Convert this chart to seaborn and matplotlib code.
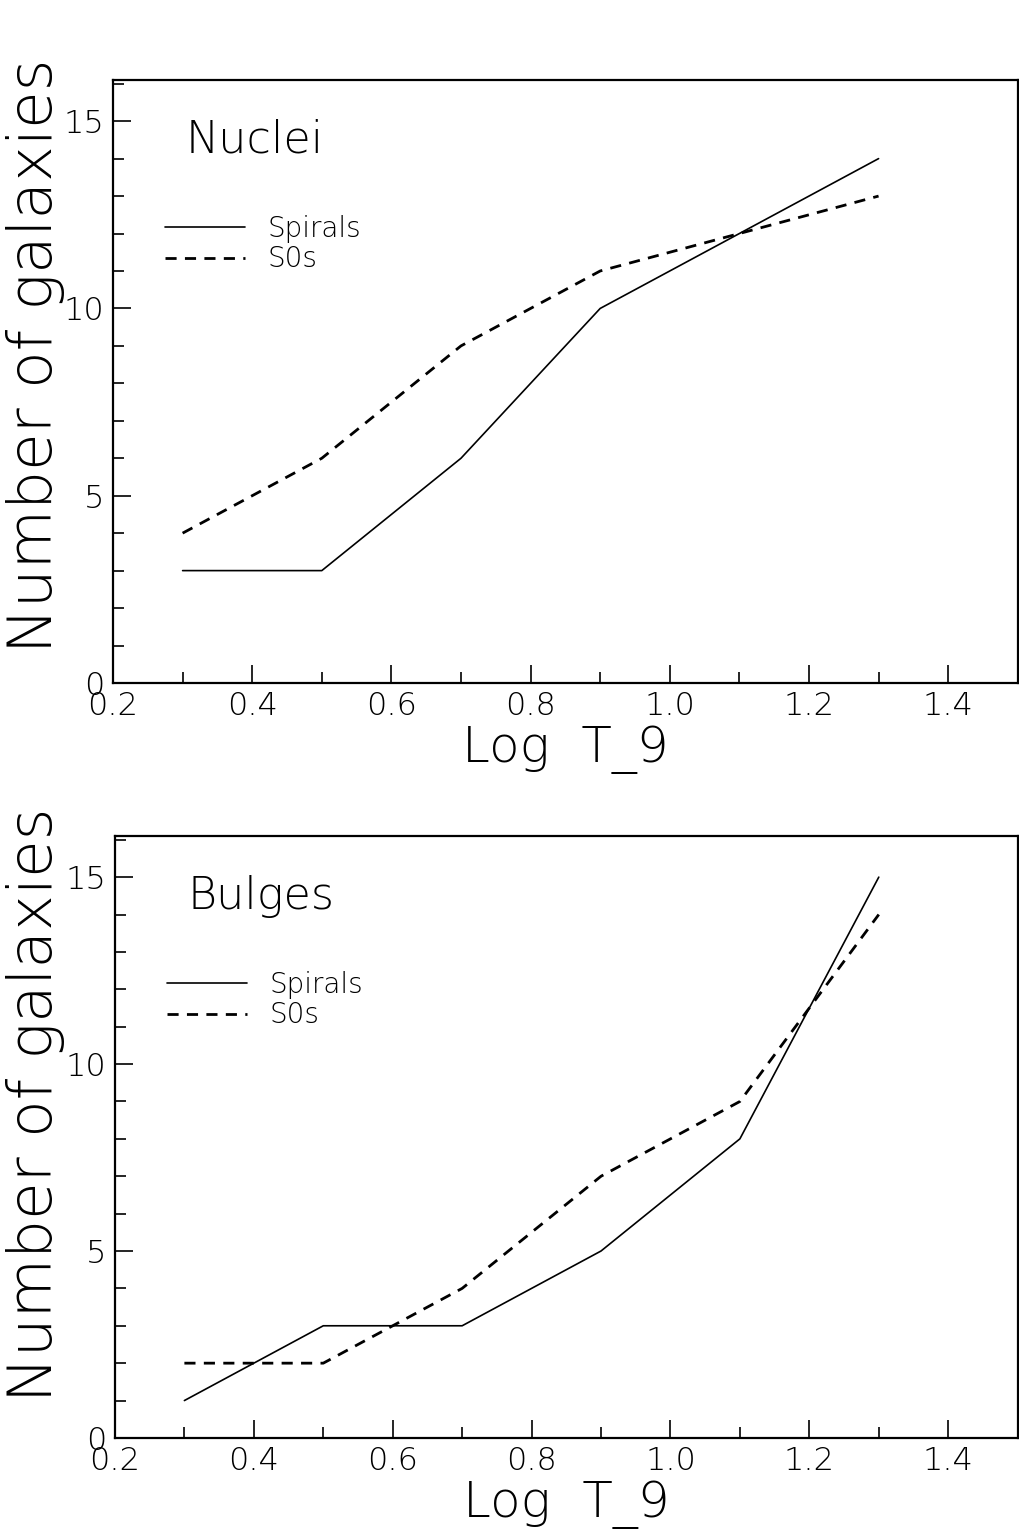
import numpy as np
import pandas as pd
import matplotlib
matplotlib.use('Agg')
import matplotlib.pyplot as plt
from matplotlib.ticker import MultipleLocator
import seaborn as sns

# values
log_t9 = [0.3, 0.5, 0.7, 0.9, 1.1, 1.3]
nuclei_spirals = [3, 3, 6, 10, 12, 14]
nuclei_s0s = [4, 6, 9, 11, 12, 13]
bulges_spirals = [1, 3, 3, 5, 8, 15]
bulges_s0s = [2, 2, 4, 7, 9, 14]

panel_names = ['Nuclei', 'Bulges']
x_ticks = [0.2, 0.4, 0.6, 0.8, 1.0, 1.2, 1.4]
x_tick_labels = ['0.2', '0.4', '0.6', '0.8', '1.0', '1.2', '1.4']
y_ticks = [0, 5, 10, 15]

sns.set_style('ticks')
plt.rcParams['font.family'] = ['DejaVu Sans']
plt.rcParams['font.weight'] = 'light'
plt.rcParams['text.color'] = 'black'
plt.rcParams['axes.labelcolor'] = 'black'
plt.rcParams['xtick.color'] = 'black'
plt.rcParams['ytick.color'] = 'black'

fig = plt.figure(figsize=(10.2, 15.32), dpi=100)
ax_top = fig.add_axes([0.1108, 0.5542, 0.887, 0.3936])
ax_bot = fig.add_axes([0.1127, 0.0614, 0.885, 0.3929])

panels = [
    (ax_top, nuclei_spirals, nuclei_s0s, panel_names[0]),
    (ax_bot, bulges_spirals, bulges_s0s, panel_names[1]),
]

for ax, spirals, s0s, name in panels:
    df = pd.DataFrame({'logT9': log_t9, 'Spirals': spirals, 'S0s': s0s})
    sns.lineplot(data=df, x='logT9', y='Spirals', ax=ax, color='black',
                 linewidth=1.2, label='Spirals')
    sns.lineplot(data=df, x='logT9', y='S0s', ax=ax, color='black',
                 linewidth=2.0, linestyle=(0, (4, 3)), label='S0s')

    ax.set_xlim(0.2, 1.5)
    ax.set_ylim(0, 16.1)
    ax.set_xticks(x_ticks)
    ax.set_xticklabels(x_tick_labels)
    ax.set_yticks(y_ticks)
    ax.xaxis.set_minor_locator(MultipleLocator(0.1))
    ax.yaxis.set_minor_locator(MultipleLocator(1))
    ax.tick_params(which='major', direction='in', length=13, width=1.2,
                   labelsize=23, pad=6)
    ax.tick_params(which='minor', direction='in', length=8, width=1.2)
    for s in ax.spines.values():
        s.set_linewidth(1.6)
        s.set_color('black')

    ax.set_xlabel('Log  T_9', fontsize=36, fontweight='light', labelpad=3)
    ax.set_ylabel('')
    ax.text(0.08, 0.9, name, transform=ax.transAxes, fontsize=32,
            va='center', ha='left')
    ax.legend(loc='upper left', bbox_to_anchor=(0.045, 0.795), frameon=False,
              fontsize=20, handlelength=2.9, handletextpad=0.8,
              labelspacing=0.1, borderaxespad=0)

fig.text(0.035, 0.768, 'Number of galaxies', rotation=90, fontsize=44,
         ha='center', va='center')
fig.text(0.035, 0.279, 'Number of galaxies', rotation=90, fontsize=44,
         ha='center', va='center')

fig.savefig('out.png', dpi=100, facecolor='white')
